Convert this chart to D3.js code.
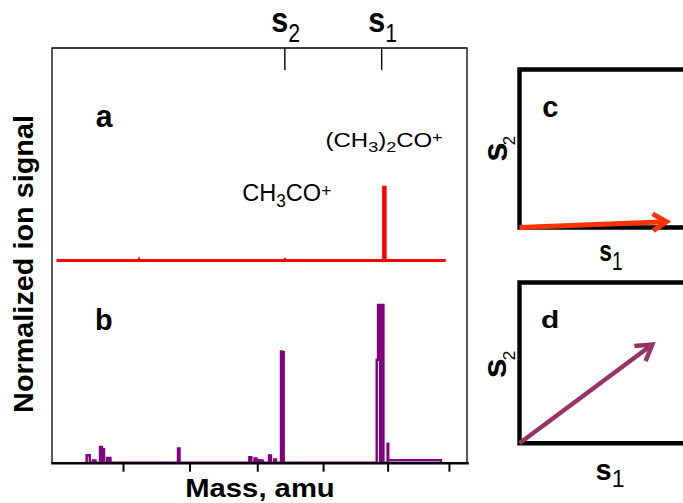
<!DOCTYPE html>
<html>
<head>
<meta charset="utf-8">
<script src="https://cdn.jsdelivr.net/npm/d3@7"></script>
<style>
  body { margin: 0; background: #fff; }
  svg { display: block; font-family: "Liberation Sans", Arial, sans-serif; }
</style>
</head>
<body>
<svg id="chart"></svg>
<script>
// spectrum a (red) : mass / normalized intensity
const massA = [7.7, 20.4, 20.48, 20.56, 43.0, 43.09, 43.18, 58.38, 58.38, 58.62, 58.62, 68.0];
const intA = [0, 0, 0.006, 0, 0, 0.005, 0, 0, 0.465, 0.465, 0, 0];

// spectrum b (purple)
const massB = [
  12.37, 12.37, 12.85, 12.85,
  13.35, 13.35, 13.74, 13.74,
  14.44, 14.44, 14.75, 14.75, 14.76, 15.06, 15.06,
  15.52, 15.52, 15.79, 15.79, 15.80, 16.06, 16.06,
  26.52, 26.52, 26.76, 26.76,
  37.57, 37.57, 37.88, 37.88,
  38.38, 38.38, 38.69, 38.69,
  39.07, 39.07, 39.31, 39.31,
  39.54, 39.54, 39.69, 39.69,
  40.62, 40.62, 40.93, 40.93,
  41.44, 41.44, 41.71, 41.71,
  42.48, 42.48, 42.69, 42.69, 42.70, 42.70, 42.90, 42.90,
  57.31, 57.31, 57.52, 57.52, 57.85, 57.85, 58.10, 58.10, 58.35, 58.35,
  59.00, 59.00, 59.10, 59.10, 67.27, 67.27
];
const intB = [
  0, 0.047, 0.047, 0,
  0, 0.015, 0.015, 0,
  0, 0.10, 0.10, 0, 0.085, 0.085, 0,
  0, 0.03, 0.03, 0, 0.03, 0.03, 0,
  0, 0.09, 0.09, 0,
  0, 0.035, 0.035, 0,
  0, 0.027, 0.027, 0,
  0, 0.016, 0.016, 0,
  0, 0.012, 0.012, 0,
  0, 0.046, 0.046, 0,
  0, 0.02, 0.02, 0,
  0, 0.706, 0.706, 0, 0, 0.70, 0.70, 0,
  0, 0.653, 0.653, 1, 1, 0, 0, 1, 1, 0,
  0, 0.12, 0.12, 0.016, 0.016, 0
];

const bottomTicks = [18, 28.3, 38.8, 49, 59, 68.5];
const topTickMass = [43, 58];
const topTickSubs = ["2", "1"];

// vectors (s1, s2) for panels c and d
const vectorC = [0.944, 0.037];
const vectorD = [0.85, 0.632];

const W = 683, H = 503;
const svg = d3.select("#chart").attr("width", W).attr("height", H);
svg.append("rect").attr("width", W).attr("height", H).attr("fill", "#fff");

const x = d3.scaleLinear().domain([7, 71.3]).range([52, 467]);
const yA = d3.scaleLinear().domain([0, 1]).range([260.5, 102.8]);
const yB = d3.scaleLinear().domain([0, 1]).range([462.7, 305]);
const TOP = 48;

const richText = (parent, tx, ty, opts, parts) => {
  const t = parent.append("text")
    .attr("transform", `translate(${tx},${ty})` + (opts.rotate ? ` rotate(${opts.rotate})` : "") + ` scale(${opts.sx || 1},1)`)
    .attr("text-anchor", opts.anchor || "start")
    .attr("fill", "#000");
  parts.forEach(p => {
    const s = t.append("tspan")
      .attr("y", p.y || 0)
      .attr("font-size", p.size)
      .attr("font-weight", p.bold ? "bold" : "normal")
      .text(p.t);
    if (p.dx) s.attr("dx", p.dx);
  });
  return t;
};

// spectra
const lineA = d3.line().x(d => x(d[0])).y(d => yA(d[1]));
const lineB = d3.line().x(d => x(d[0])).y(d => yB(d[1]));

svg.append("path")
  .attr("d", lineA(d3.zip(massA, intA)))
  .attr("fill", "none").attr("stroke", "#ff0000").attr("stroke-width", 3);

svg.append("path")
  .attr("d", lineB(d3.zip(massB, intB)))
  .attr("fill", "none").attr("stroke", "#800080").attr("stroke-width", 2.4);

// frame
const [x0, x1] = x.range();
svg.append("path")
  .attr("d", `M${x0},${yB(0)}V${TOP}H${x1}V${yB(0)}`)
  .attr("fill", "none").attr("stroke", "#000").attr("stroke-width", 1.3);

// bottom axis
const xAxis = d3.axisBottom(x).tickValues(bottomTicks).tickSize(9).tickSizeOuter(0).tickFormat("");
const gx = svg.append("g").attr("transform", `translate(0,${yB(0)})`).call(xAxis);
gx.select(".domain").attr("stroke-width", 2.6).attr("stroke-linecap", "square");
gx.selectAll(".tick line").attr("stroke-width", 2);

// top s1/s2 ticks (pointing inside)
const topAxis = d3.axisBottom(x).tickValues(topTickMass).tickSize(22).tickFormat("");
const gt = svg.append("g").attr("transform", `translate(0,${TOP})`).call(topAxis);
gt.select(".domain").remove();
gt.selectAll(".tick line").attr("stroke-width", 1.4);

topTickMass.forEach((m, i) => {
  richText(svg, x(m) - 13, 32.3, { sx: 0.85 }, [
    { t: "s", size: 36, bold: true },
    { t: topTickSubs[i], size: 25, y: 9.4 }
  ]);
});

// panel letters and ion labels
richText(svg, 95.7, 126.7, { sx: 0.94 }, [{ t: "a", size: 32, bold: true }]);
richText(svg, 95, 330, { sx: 0.96 }, [{ t: "b", size: 30, bold: true }]);

richText(svg, 325.5, 146.7, { sx: 1.2 }, [
  { t: "(CH", size: 20 },
  { t: "3", size: 15, y: 5 },
  { t: ")", size: 20 },
  { t: "2", size: 15, y: 5 },
  { t: "CO", size: 20 },
  { t: "+", size: 15, y: -4.8 }
]);
richText(svg, 242.3, 201, { sx: 0.96 }, [
  { t: "CH", size: 24.5 },
  { t: "3", size: 18, y: 5.7 },
  { t: "CO", size: 24.5 },
  { t: "+", size: 18, y: -3.7 }
]);

richText(svg, 260, 496.7, { sx: 1.17, anchor: "middle" }, [{ t: "Mass, amu", size: 25, bold: true }]);
richText(svg, 33.3, 264, { sx: 1.03, anchor: "middle", rotate: -90 }, [{ t: "Normalized ion signal", size: 28, bold: true }]);

// vector panels c and d
const px = d3.scaleLinear().domain([0, 1]).range([519.5, 679.5]);
const pyC = d3.scaleLinear().domain([0, 1]).range([227.5, 67.5]);
const pyD = d3.scaleLinear().domain([0, 1]).range([443.2, 283.2]);

const panel = (py, top) => {
  svg.append("path")
    .attr("d", `M${W + 20},${top}H${px(0)}V${py(0)}H${W + 20}`)
    .attr("fill", "none").attr("stroke", "#000").attr("stroke-width", 4.4)
    .attr("stroke-linejoin", "miter");
};
panel(pyC, 69.5);
panel(pyD, 282.5);

const arrow = (py, vec, color, w, headLen) => {
  const ax = px(0), ay = py(0), bx = px(vec[0]), by = py(vec[1]);
  const ang = Math.atan2(by - ay, bx - ax);
  const spread = 0.55;
  const tx = bx - 4 * Math.cos(ang), ty = by - 4 * Math.sin(ang);
  svg.append("line")
    .attr("x1", ax).attr("y1", ay).attr("x2", tx).attr("y2", ty)
    .attr("stroke", color).attr("stroke-width", w);
  const h1 = [tx - headLen * Math.cos(ang - spread), ty - headLen * Math.sin(ang - spread)];
  const h2 = [tx - headLen * Math.cos(ang + spread), ty - headLen * Math.sin(ang + spread)];
  svg.append("path")
    .attr("d", `M${h1}L${tx},${ty}L${h2}`)
    .attr("fill", "none").attr("stroke", color).attr("stroke-width", w)
    .attr("stroke-linejoin", "miter");
};
arrow(pyC, vectorC, "#ff3300", 5, 16);
arrow(pyD, vectorD, "#993366", 4.5, 18);

richText(svg, 542.3, 116.7, {}, [{ t: "c", size: 29, bold: true }]);
richText(svg, 541, 328.3, { sx: 1.3 }, [{ t: "d", size: 23, bold: true }]);

richText(svg, 506.7, 161.7, { rotate: -90 }, [
  { t: "s", size: 35, bold: true },
  { t: "2", size: 17, y: 8.3, dx: -3 }
]);
richText(svg, 599.3, 260.7, { sx: 0.76 }, [
  { t: "s", size: 30, bold: true },
  { t: "1", size: 25, y: 9.3 }
]);
richText(svg, 506, 378.3, { rotate: -90, sx: 1.05 }, [
  { t: "s", size: 34, bold: true },
  { t: "2", size: 17, y: 9, dx: -2 }
]);
richText(svg, 595.5, 480, { sx: 1.0 }, [
  { t: "s", size: 29, bold: true },
  { t: "1", size: 23, y: 6.7 }
]);
</script>
</body>
</html>
